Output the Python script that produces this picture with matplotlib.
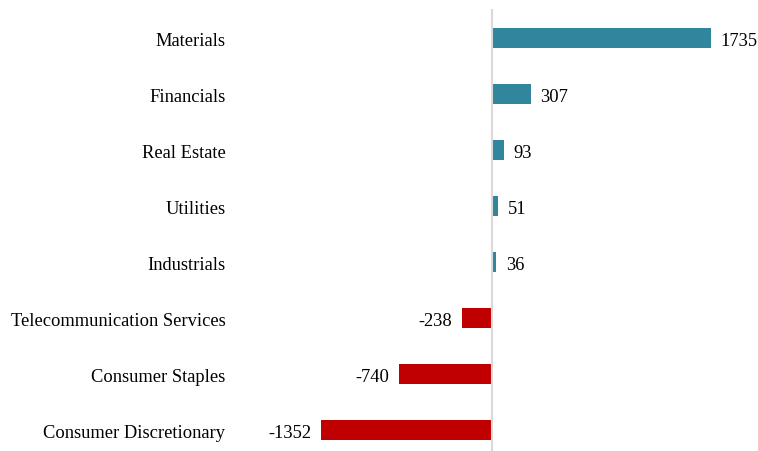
import matplotlib.pyplot as plt

# sector values, top to bottom
sectors = ["Materials", "Financials", "Real Estate", "Utilities", "Industrials",
           "Telecommunication Services", "Consumer Staples", "Consumer Discretionary"]
values = [1735, 307, 93, 51, 36, -238, -740, -1352]

pos_color = "#31859C"
neg_color = "#C00000"

plt.rcParams["font.family"] = ["Liberation Serif", "DejaVu Serif"]

fig = plt.figure(figsize=(7.58, 4.52), dpi=100)
ax = fig.add_axes([0.31, 0.0, 0.67, 1 - 10 / 452])

colors = [pos_color if v >= 0 else neg_color for v in values]
ypos = list(range(len(sectors)))
bars = ax.barh(ypos, values, height=0.36, color=colors, zorder=2)

labels = ax.bar_label(bars, labels=[str(v) for v in values], padding=7, fontsize=13.3)
for t in labels:
    t.set_y(t.get_position()[1])
    t.set_va("center_baseline")

ax.axvline(0, color="#D9D9D9", linewidth=1.5, zorder=3)

ax.set_yticks(ypos)
ax.set_yticklabels(sectors, fontsize=13.3)
ax.tick_params(axis="y", length=0, pad=7)
ax.set_xticks([])
ax.set_xlim(-2036, 1989)
ax.set_ylim(7.375, -0.52)
for s in ax.spines.values():
    s.set_visible(False)

fig.savefig("out.png", dpi=100, facecolor="white")
